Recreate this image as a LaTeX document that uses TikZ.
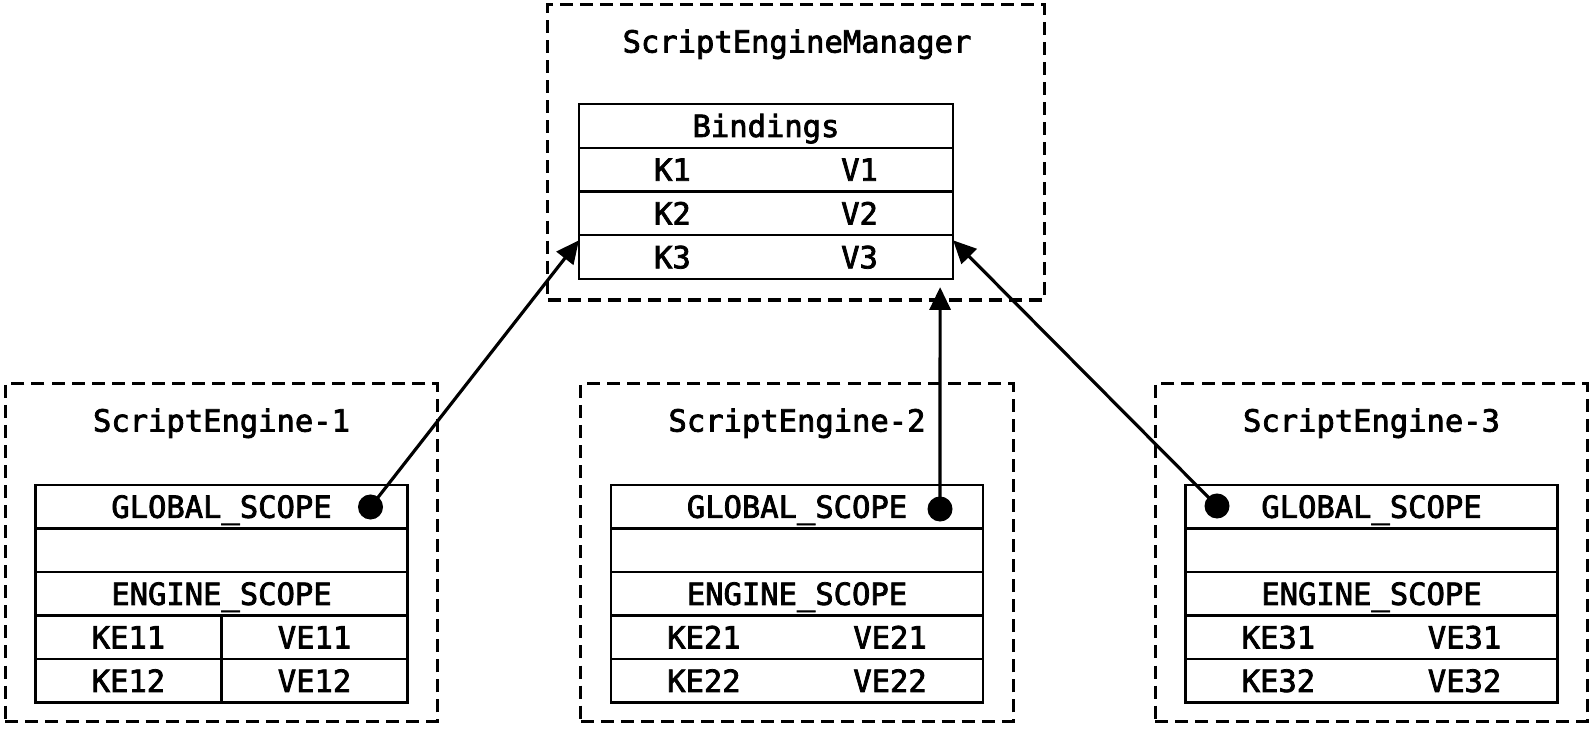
\documentclass[tikz,border=0pt]{standalone}
\usepackage{fontspec}
\newfontfamily\codefont[FakeBold=2.5]{DejaVu Sans Mono}
\usetikzlibrary{arrows.meta,positioning}

\begin{document}
\begin{tikzpicture}[x=0.01cm, y=-0.01cm,
  every node/.style={font=\codefont\fontsize{8.67pt}{10pt}\selectfont},
  txt/.style={inner sep=0pt, text height=6.3pt, text depth=0pt},
  dashbox/.style={draw, line width=0.9pt, dash pattern=on 3.7pt off 2pt,
    minimum width=4.32cm, minimum height=3.37cm, inner sep=0pt},
  row/.style={draw, line width=0.65pt, minimum width=3.72cm, minimum height=0.435cm,
    inner sep=0pt, outer sep=0pt, text height=6.3pt, text depth=0pt},
  dot/.style={circle, fill, minimum size=0.25cm, inner sep=0pt},
  link/.style={line width=0.9pt, -{Triangle[length=6.5pt,width=6pt]}}]

\path[fill=white, use as bounding box] (0,0) rectangle (1594,731);

% manager with the shared bindings
\node[dashbox, minimum width=4.96cm, minimum height=2.95cm] (mgr) at (796,152.5) {};
\node[txt] (mtitle) at (797,41.5) {ScriptEngineManager};
\tikzset{brow/.style={row, minimum width=3.74cm, minimum height=0.4375cm}}
\node[brow] (bind) at (766,125.9) {Bindings};
\node[brow, below=0pt of bind] (b1) {};
\node[brow, below=0pt of b1] (b2) {};
\node[brow, below=0pt of b2] (b3) {};
\foreach \j in {1,2,3}{
  \node[txt] (k\j) at ([xshift=-0.935cm]b\j.center) {K\j};
  \node[txt] (v\j) at ([xshift=0.935cm]b\j.center) {V\j};
}

% the three engines
\foreach \i/\c in {1/221.5,2/797,3/1371.5}{
  \node[dashbox] (se\i) at (\c,552.5) {};
  \node[txt] (stitle\i) at (\c,420.5) {ScriptEngine-\i};
  \node[row] (g\i) at (\c,506.75) {GLOBAL\_SCOPE};
  \node[row, below=0pt of g\i] (n\i) {};
  \node[row, below=0pt of n\i] (e\i) {ENGINE\_SCOPE};
  \node[row, below=0pt of e\i] (ra\i) {};
  \node[row, below=0pt of ra\i] (rb\i) {};
  \node[txt] (ka\i) at ([xshift=-0.93cm]ra\i.center) {KE\i1};
  \node[txt] (va\i) at ([xshift=0.93cm]ra\i.center) {VE\i1};
  \node[txt] (kb\i) at ([xshift=-0.93cm]rb\i.center) {KE\i2};
  \node[txt] (vb\i) at ([xshift=0.93cm]rb\i.center) {VE\i2};
}
\draw[line width=0.65pt] (ra1.north) -- (rb1.south);

% references to the global scope
\node[dot] (d1) at (370.5,507) {};
\node[dot] (d2) at (940,509) {};
\node[dot] (d3) at (1217,506) {};
\coordinate (t1) at ([yshift=-0.05cm]b3.north west);
\coordinate (t2) at ([xshift=-0.13cm,yshift=-0.08cm]b3.south east);
\coordinate (t3) at ([yshift=-0.05cm]b3.north east);
\draw[link] (d1.center) -- (t1);
\draw[link] (d2.center) -- (t2);
\draw[link] (d3.center) -- (t3);
\end{tikzpicture}
\end{document}
